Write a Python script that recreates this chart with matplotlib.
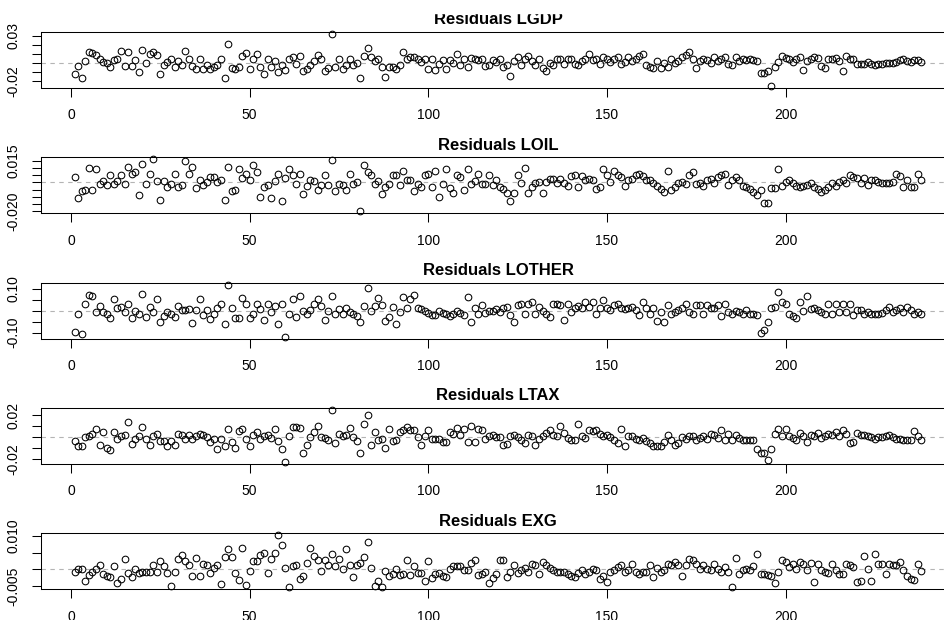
import numpy as np
import matplotlib.pyplot as plt
from matplotlib.patches import Rectangle

plt.rcParams['font.family'] = ['Liberation Sans', 'DejaVu Sans']

# residuals, t = 1..238
lgdp_res = [
    -0.012, -0.003, -0.016, 0.002, 0.012, 0.011, 0.009, 0.004, 0.001, 0.000,
    -0.004, 0.003, 0.004, 0.013, -0.003, 0.012, -0.003, 0.003, -0.010, 0.014,
    0.000, 0.010, 0.012, 0.009, -0.012, -0.002, 0.001, 0.004, -0.004, 0.002,
    -0.002, 0.013, 0.005, -0.003, -0.006, 0.005, -0.006, -0.002, -0.006, -0.004,
    -0.002, 0.005, -0.016, 0.021, -0.005, -0.006, -0.004, 0.008, 0.011, -0.006,
    0.005, 0.010, -0.004, -0.012, 0.005, -0.004, 0.002, -0.010, -0.002, -0.007,
    0.004, 0.007, -0.001, 0.008, -0.009, -0.006, -0.002, 0.002, 0.009, 0.005,
    -0.009, -0.005, 0.032, -0.004, 0.004, -0.006, -0.002, 0.004, -0.002, 0.000,
    -0.016, 0.008, 0.016, 0.007, 0.002, 0.004, -0.004, -0.015, -0.004, -0.004,
    -0.006, -0.002, 0.012, 0.004, 0.007, 0.007, 0.004, 0.001, 0.004, -0.006,
    0.005, -0.007, -0.001, 0.003, -0.006, 0.003, 0.000, 0.010, -0.002, 0.005,
    -0.004, 0.006, 0.004, 0.003, 0.004, -0.003, -0.002, 0.003, 0.001,
    0.004, -0.004, -0.002, -0.014,
    0.002, 0.007, -0.002, 0.005, 0.008, 0.002, -0.002, 0.004, -0.005, -0.009,
    0.000, -0.002, 0.005, 0.004, -0.001, 0.004, 0.005, -0.001, -0.002, 0.002, 0.005, 0.010,
    0.003, 0.005, -0.001, 0.007, 0.004, 0.001, 0.005, 0.007, -0.001, 0.001, 0.007, 0.002,
    0.005, 0.008, 0.010, -0.002,
    -0.004, -0.005, 0.002, -0.005, 0.000, -0.004, 0.004, 0.000, 0.002, 0.007, 0.009, 0.012,
    0.004, -0.005,
    0.002, 0.005, 0.003, 0.000, 0.007, 0.002, 0.005, 0.007, -0.001, -0.002, 0.007, 0.002,
    0.004, 0.003, 0.004, 0.003, 0.002, -0.011, -0.011, -0.009, -0.0245,
    -0.004, 0.001,
    0.008, 0.006, 0.005, 0.001, 0.004, 0.007, -0.007, 0.002, 0.005, 0.007, 0.006, -0.003,
    -0.005, 0.005, 0.005, 0.006, 0.002, -0.009, 0.008, 0.005,
    0.004, -0.001, -0.001, -0.001, 0.001, -0.001, -0.002, -0.001, -0.001, 0.000, 0.000, 0.000,
    0.001, 0.003, 0.004, 0.002, 0.001, 0.003, 0.003, 0.001,
]

loil_res = [
    0.004, -0.011, -0.006, -0.005, 0.010, -0.005, 0.009, -0.001, 0.001, -0.002,
    0.005, -0.001, 0.001, 0.005, -0.001, 0.011, 0.006, 0.007, -0.009, 0.013,
    -0.001, 0.006, 0.016, 0.001, -0.012, 0.001, -0.003, -0.001, 0.006, -0.003,
    -0.002, 0.015, 0.006, 0.011, -0.004, 0.002, -0.002, 0.000, 0.004, 0.004,
    0.000, 0.002, -0.0125, 0.011, -0.006, -0.005, 0.009, 0.003, 0.006, 0.002,
    0.012, 0.007, -0.010, -0.003, -0.002, -0.0105, 0.001, 0.006, -0.013, 0.003,
    0.009, 0.005, -0.001, 0.006, -0.008, -0.0025, 0.002, 0.001, -0.005, -0.002,
    0.005, -0.002, 0.0157, -0.006, -0.001, -0.002, -0.005, 0.006, -0.001, 0.000,
    -0.020, 0.012, 0.007, 0.005, -0.001, 0.001, -0.008, -0.003, -0.001, 0.005,
    0.005, -0.002, 0.008, 0.002, 0.002, -0.006, -0.001, -0.003, 0.005, 0.006,
    -0.003, 0.008, -0.010, -0.001, 0.009, -0.004, -0.0075, 0.005, 0.004, -0.005,
    0.009, -0.001, 0.001, 0.006, -0.001, -0.001, 0.005, -0.002, 0.002,
    -0.0030, -0.0048, -0.0070, -0.0132, -0.0070,
    0.0050, -0.0007, 0.0102, -0.0070, -0.0034, -0.0007, 0.0005, -0.0075, 0.0005, 0.0027,
    0.0027, -0.0007, 0.0027, -0.0007, -0.0025, 0.0043, 0.0050, -0.0030, 0.0043, 0.0020,
    0.0027, 0.0020,
    -0.0048, -0.0030, 0.0095, 0.0050, 0.0005, 0.0080, 0.0050, 0.0039, -0.0025, 0.0016,
    0.0027, 0.0050, 0.0061, 0.0043, 0.0020, 0.0016,
    -0.0007, -0.0025, -0.0048, -0.0064, 0.0080, -0.0052, -0.0030, -0.0007, 0.0005, -0.0014,
    0.0050, 0.0073, -0.0014, -0.0007,
    -0.0025, 0.0020, 0.0027, -0.0007, 0.0039, 0.0050, 0.0055, -0.0018, 0.0016, 0.0039,
    0.0020, -0.0025, -0.0030, -0.0048, -0.0064, -0.0086, -0.0052, -0.0143, -0.0143,
    -0.0041, -0.0041, 0.0095, -0.0025,
    0.0005, 0.0020, -0.0007, -0.0025, -0.0034, -0.0025, -0.0018, -0.0007, -0.0034, -0.0048,
    -0.0064, -0.0052, -0.0030, -0.0007, -0.0025, 0.0005, 0.0016, -0.0007, 0.0050,
    0.0039, 0.0034, -0.0007, 0.0034, -0.0018, 0.0016, 0.0020, 0.0005, -0.0007, -0.0007,
    -0.0002, 0.0005, 0.0061, 0.0043, -0.0030, 0.0016, -0.0030, -0.0030, 0.0061, 0.0020,
]

lother_res = [
    -0.099, -0.016, -0.107, 0.032, 0.072, 0.066, -0.005, 0.022, -0.008, -0.013,
    -0.032, 0.052, 0.010, 0.017, -0.008, 0.029, -0.035, -0.002, -0.013, 0.077,
    -0.028, 0.017, -0.005, 0.052, -0.053, -0.023, -0.008, -0.013, -0.028, 0.022,
    0.002, 0.002, 0.007, -0.057, 0.002, 0.052, -0.020, 0.005, -0.038, -0.013,
    0.013, 0.032, -0.060, 0.117, 0.010, -0.032, -0.032, 0.057, 0.032, -0.035,
    -0.013, 0.029, 0.007, -0.042, 0.032, -0.005, 0.022, -0.060, 0.032, -0.120,
    -0.016, 0.052, -0.031, 0.065, -0.002, -0.016, 0.002, 0.032, 0.052, 0.020,
    -0.042, -0.001, 0.069, -0.013, 0.007, -0.013, 0.013, -0.008, -0.013, -0.023,
    -0.053, 0.020, 0.104, -0.001, 0.020, 0.057, 0.025, -0.047, -0.031, 0.017,
    -0.060, -0.005, 0.062, 0.014, 0.054, 0.072, 0.014, 0.007, -0.001, -0.010,
    -0.020, -0.020, -0.001, -0.010, -0.013, -0.023, -0.016, -0.001, -0.010, -0.020,
    0.062, -0.054, 0.013, -0.013, 0.028, -0.010, -0.001, -0.001, 0.007,
    -0.005, 0.010, 0.017, -0.020, -0.050,
    0.028, 0.032, -0.013, 0.032, 0.040, -0.013, 0.017, -0.002, -0.013, -0.028,
    0.032, 0.032, 0.028, -0.043, 0.032, -0.005, 0.010, 0.022, 0.013, 0.040, 0.017,
    0.040, -0.013, 0.013, 0.051, 0.010, 0.002, 0.025, 0.032, 0.013, 0.007, 0.013, 0.017,
    0.002, -0.020, 0.040,
    0.010, -0.013, 0.010, -0.046, -0.005, -0.050, 0.025, -0.013, -0.005, 0.002, 0.013,
    0.032, -0.005, -0.013,
    0.025, 0.028, -0.013, 0.028, 0.010, 0.013, 0.028, -0.023, 0.032, -0.005, -0.013,
    -0.001, -0.005, -0.013, 0.002, -0.017, -0.013, -0.020, -0.102, -0.088, -0.050,
    0.010, 0.017, 0.087, 0.040, 0.032, -0.013, -0.023, -0.035, 0.040, -0.001, 0.069,
    0.007, 0.010, 0.002, -0.005, -0.013, 0.032, -0.013, 0.032, -0.005, 0.032, -0.005,
    0.032, -0.020, 0.002, 0.002, -0.013, -0.005, -0.013, -0.013, -0.017, -0.010, 0.002,
    0.017, -0.005, 0.002, 0.010, -0.005, 0.017, 0.002, -0.013, -0.005, -0.013,
]

ltax_res = [
    -0.0030, -0.0075, -0.0075, 0.0000, 0.0009, 0.0033, 0.0075, -0.0066, 0.0048, -0.0101,
    -0.0116, 0.0045, -0.0015, 0.0009, 0.0018, 0.0143, -0.0057, -0.0015, 0.0009, 0.0093,
    -0.0015, -0.0066, 0.0009, 0.0033, -0.0030, -0.0030, -0.0075, -0.0030, -0.0066, 0.0033,
    0.0018, -0.0015, 0.0018, -0.0015, 0.0009, 0.0033, 0.0024, 0.0000, -0.0042, -0.0015,
    -0.0110, -0.0015, -0.0075, 0.0075, -0.0042, -0.0101, 0.0060, 0.0075, -0.0015, -0.0075,
    0.0024, 0.0045, -0.0015, 0.0009, 0.0018, -0.0006, 0.0075, -0.0036, -0.0110, -0.0224,
    0.0009, 0.0093, 0.0093, 0.0084, -0.0146, -0.0066, 0.0000, 0.0045, 0.0104, 0.0000,
    -0.0006, -0.0021, 0.0248, -0.0051, 0.0033, 0.0009, 0.0018, 0.0084, 0.0000, -0.0036,
    -0.0140, 0.0119, 0.0203, -0.0066, 0.0045, -0.0021, -0.0015, -0.0101, 0.0075, -0.0036,
    -0.0021, 0.0045, 0.0069, 0.0093, 0.0063, 0.0063, 0.0000, -0.0066, 0.0009, 0.0069,
    -0.0015, -0.0015, -0.0015, -0.0042, -0.0045, 0.0045, 0.0030, 0.0084, 0.0024, 0.0075,
    -0.0042, 0.0107, -0.0042, 0.0078, 0.0063, -0.0015, 0.0009, 0.0018, 0.0000,
    0.0000, -0.0066, -0.0057, 0.0009, 0.0024, 0.0000, -0.0021, -0.0051, 0.0024, 0.0009,
    -0.0066, -0.0015, 0.0009, 0.0039,
    0.0069, 0.0024, 0.0009, 0.0099, 0.0039, -0.0006, -0.0021, -0.0027, 0.0122, 0.0009,
    -0.0006, 0.0069,
    0.0054, 0.0069, 0.0033, 0.0009, 0.0024, 0.0003, -0.0021, -0.0051, 0.0075, -0.0081,
    0.0009, 0.0009, -0.0015, -0.0021, -0.0006, -0.0036,
    -0.0051, -0.0081, -0.0081, -0.0075, -0.0045, 0.0024, -0.0027, -0.0066, -0.0051, 0.0003,
    -0.0015, 0.0009, 0.0015, -0.0021,
    -0.0006, 0.0009, -0.0015, 0.0033, 0.0024, -0.0006, 0.0069, -0.0021, 0.0030, -0.0021,
    0.0018, -0.0006, -0.0027, -0.0027, -0.0027, -0.0021, -0.0110, -0.0146, -0.0140, -0.0209,
    -0.0104,
    0.0033, 0.0075, 0.0009, 0.0075, 0.0009, -0.0006, -0.0021, 0.0039, 0.0009, -0.0045,
    0.0024, 0.0009,
    0.0039, -0.0006, 0.0009, 0.0033, 0.0024, 0.0045, 0.0009, 0.0063, 0.0033, -0.0051,
    -0.0045, 0.0039, 0.0024, 0.0024, 0.0009, 0.0003, -0.0015, 0.0003, 0.0000, 0.0009,
    0.0024, 0.0003, -0.0015, -0.0015, -0.0021, -0.0027, -0.0027, 0.0054, 0.0009, -0.0027,
]

exg_res = [
    -0.0008, 0.0000, 0.0000, -0.0033, -0.0015, -0.0008, 0.0000, 0.0014, -0.0013, -0.0020,
    -0.0023, 0.0010, -0.0040, -0.0028, 0.0030, -0.0010, -0.0023, 0.0000, -0.0010, -0.0008,
    -0.0008, -0.0008, 0.0014, -0.0008, 0.0025, 0.0010, -0.0010, -0.0048, -0.0008, 0.0030,
    0.0042, 0.0025, 0.0014, -0.0020, 0.0035, -0.0020, 0.0017, 0.0014, -0.0010, 0.0005,
    0.0014, -0.0043, 0.0037, 0.0060, 0.0037, -0.0010, -0.0031, 0.0064, -0.0046, -0.0005,
    0.0025, 0.0025, 0.0042, 0.0050, -0.0011, 0.0032, 0.0049, 0.0102, 0.0072, 0.0005,
    -0.0051, 0.0010, 0.0014, -0.0028, -0.0018, 0.0020, 0.0065, 0.0039, 0.0027, -0.0005,
    0.0029, 0.0014, 0.0047, 0.0009, 0.0030, 0.0002, 0.0060, 0.0014, -0.0021, 0.0014,
    0.0020, 0.0037, 0.0082, 0.0005, -0.0048, -0.0033, -0.0053, -0.0005, -0.0020, -0.0013,
    0.0000, -0.0015, -0.0013, 0.0029, -0.0015, 0.0009, -0.0010, -0.0010, -0.0033, 0.0025,
    -0.0026, -0.0013, -0.0010, -0.0020, -0.0023, 0.0000, 0.0010, 0.0010, 0.0010, -0.0003,
    -0.0003, 0.0020, 0.0029, -0.0015, -0.0013, -0.0008, -0.0040, -0.0026, -0.0013,
    0.0027, 0.0027, -0.0023, -0.0008, 0.0012, -0.0011, -0.0003, 0.0005, -0.0008, 0.0017,
    0.0012, -0.0013, 0.0022, 0.0014,
    0.0005, -0.0001, -0.0008, -0.0008, -0.0008, -0.0013, -0.0018, -0.0023, -0.0011, -0.0003,
    -0.0013, -0.0008,
    0.0002, -0.0001, -0.0028, -0.0018, -0.0038, -0.0008, -0.0003, 0.0007, 0.0012, -0.0008,
    -0.0001, 0.0017, -0.0008, -0.0013, -0.0008, -0.0008,
    0.0012, -0.0023, 0.0005, -0.0008, -0.0003, 0.0017, 0.0014, 0.0022, 0.0014, -0.0018,
    0.0012, 0.0032, 0.0027, 0.0017,
    0.0002, 0.0012, 0.0002, -0.0003, 0.0017, 0.0002, -0.0008, 0.0007, -0.0008, -0.0051,
    0.0035, -0.0013, -0.0003, 0.0002, -0.0001, 0.0009, 0.0047, -0.0013, -0.0013, -0.0015,
    -0.0018,
    -0.0041, -0.0008, 0.0029, 0.0022, 0.0007, 0.0017, 0.0002, 0.0022, 0.0017, -0.0003,
    0.0020, -0.0038,
    0.0017, -0.0003, -0.0008, -0.0011, 0.0017, -0.0003, -0.0013, -0.0013, 0.0017, 0.0012,
    0.0007, -0.0038, -0.0033, 0.0039, 0.0002, -0.0035, 0.0047, 0.0017, 0.0017, -0.0013,
    0.0017, 0.0012, 0.0014, 0.0022, -0.0003, -0.0018, -0.0028, -0.0031, 0.0015, -0.0005,
]

titles = ['Residuals LGDP', 'Residuals LOIL', 'Residuals LOTHER',
          'Residuals LTAX', 'Residuals EXG']
series = [lgdp_res, loil_res, lother_res, ltax_res, exg_res]
y_ticks = [[-0.02, -0.01, 0.0, 0.01, 0.02, 0.03],
           [-0.020, -0.015, -0.010, -0.005, 0.0, 0.005, 0.010, 0.015],
           [-0.10, -0.05, 0.0, 0.05, 0.10],
           [-0.02, -0.01, 0.0, 0.01, 0.02],
           [-0.005, 0.0, 0.005, 0.010]]
y_labels = [['-0.02', '', '', '', '', '0.03'],
            ['-0.020', '', '', '', '', '', '', '0.015'],
            ['-0.10', '', '', '', '0.10'],
            ['-0.02', '', '', '', '0.02'],
            ['-0.005', '', '', '0.010']]
x_ticks = [0, 50, 100, 150, 200]

W, H = 945, 620
fig = plt.figure(figsize=(W / 100, H / 100), dpi=100)
box_top = [31.7, 157.3, 283.0, 408.0, 533.3]   # px from top
box_h = 56.0
left, width = 40.7, 914.5   # box runs past the right edge, as in the picture

for i in range(5):
    y = np.array(series[i])
    n = len(y)
    x = np.arange(1, n + 1)
    ax = fig.add_axes([left / W, 1 - (box_top[i] + box_h) / H, width / W, box_h / H])
    ax.axhline(0, color='#b4b4b4', lw=0.8, ls=(0, (4, 4)), zorder=1)
    ax.plot(x, y, 'o', mfc='none', mec='black', ms=4.8, mew=0.75, zorder=2, clip_on=False)
    # R style 4% padding
    ax.set_xlim(1 - 0.04 * (n - 1), n + 0.04 * (n - 1))
    r = y.max() - y.min()
    ax.set_ylim(y.min() - 0.04 * r, y.max() + 0.04 * r)
    ax.set_xticks(x_ticks)
    ax.set_xticklabels([str(t) for t in x_ticks])
    ax.set_yticks(y_ticks[i])
    ax.set_yticklabels(y_labels[i], rotation=90, va='center')
    ax.tick_params(length=6.7, width=0.75, labelsize=10, pad=8)
    for s in ax.spines.values():
        s.set_linewidth(0.75)
    ax.set_title(titles[i], fontweight='bold', fontsize=12, pad=5.5)

# top strip of the picture is blank (title of first panel is cut)
fig.add_artist(Rectangle((0, 1 - 12.5 / H), 1, 12.5 / H, transform=fig.transFigure,
                         color='white', zorder=10))

fig.savefig('out.png', dpi=100)
